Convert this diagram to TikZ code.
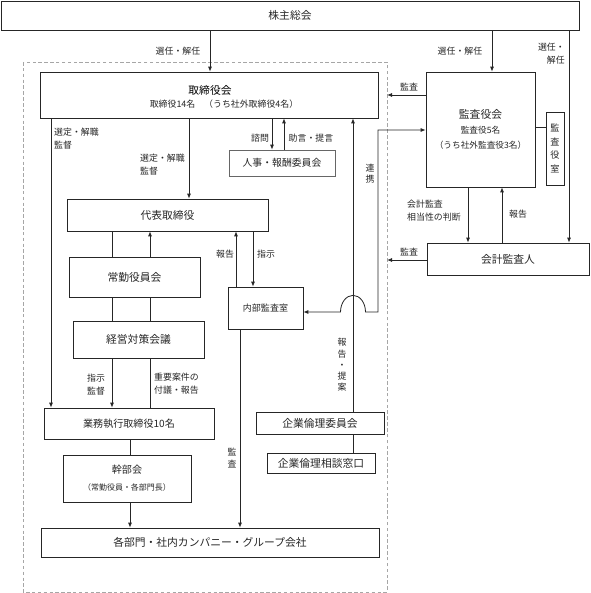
\documentclass[tikz,border=0pt]{standalone}
\usepackage{fontspec}
\setmainfont{Noto Sans CJK JP}
\usetikzlibrary{arrows.meta}
\tikzset{
  box/.style={draw=black!85, line width=0.6pt, inner sep=0pt, text=black!85},
  wh/.style 2 args={minimum width=#1*0.03cm, minimum height=#2*0.03cm},
  lbl/.style={inner sep=0pt, text=black!85, align=center, font=\fontsize{7.6}{11}\selectfont},
  vlbl/.style={lbl, font=\fontsize{7.6}{9.6}\selectfont},
  big/.style={font=\fontsize{9.2}{11}\selectfont},
  conn/.style={draw=black!85, line width=0.7pt},
}
\begin{document}
\begin{tikzpicture}[x=0.03cm, y=-0.03cm, >={Latex[length=1.5mm,width=1.2mm]}]
	\useasboundingbox (0,0) rectangle (590,593);
	\draw[gray!70, dash pattern=on 3pt off 2pt, line width=0.5pt] (23,62) rectangle (387,592);
	\node[box, big, wh={578}{29}] (0) at (290,15.5) {株主総会};
	\node[box, wh={338}{46}] (1) at (209,95) {};
	\node[big, inner sep=0pt] (2) at (210,90) {取締役会};
	\node[lbl] (3) at (224,104) {取締役14名\quad（うち社外取締役4名）};
	\node[box, wh={109}{115}, align=center, font=\fontsize{7.4}{12.5}\selectfont] (4) at (480.5,129.5) {{\fontsize{9.2}{12.5}\selectfont 監査役会}\\監査役5名\\（うち社外監査役3名）};
	\node[box, wh={18}{73}, align=center, font=\fontsize{7.8}{11.6}\selectfont] (5) at (555,148.5) {監\\査\\役\\室};
	\node[box, big, wh={162}{32}] (6) at (508,259) {会計監査人};
	\node[box, wh={106}{26}, draw=black!60, font=\fontsize{8.4}{10}\selectfont] (7) at (282,163) {人事・報酬委員会};
	\node[box, big, wh={201}{32}] (8) at (167.5,215) {代表取締役};
	\node[box, big, wh={131}{40}] (9) at (134.5,277) {常勤役員会};
	\node[box, big, wh={131}{37}] (10) at (138.5,339.5) {経営対策会議};
	\node[box, wh={170}{31}, font=\fontsize{8.6}{10}\selectfont] (11) at (129,423.5) {業務執行取締役10名};
	\node[box, wh={128}{47}, align=center, font=\fontsize{6.8}{14.5}\selectfont] (12) at (127,478.5) {{\fontsize{8.6}{14.5}\selectfont 幹部会}\\（常勤役員・各部門長）};
	\node[box, big, wh={338}{29}] (13) at (210,542.5) {各部門・社内カンパニー・グループ会社};
	\node[box, wh={75}{42}, font=\fontsize{7.7}{10}\selectfont] (14) at (265.5,308) {内部監査室};
	\node[box, big, wh={128}{22}] (15) at (320,423) {企業倫理委員会};
	\node[box, big, wh={108}{20}] (16) at (321,463) {企業倫理相談窓口};
	\node[lbl] (17) at (178,51) {選任・解任};
	\node[lbl] (18) at (460,51) {選任・解任};
	\node[lbl, anchor=east, align=right] (19) at (565,54) {選任・\\解任};
	\node[lbl] (20) at (409,87) {監査};
	\node[lbl] (21) at (409,252) {監査};
	\node[vlbl] (22) at (370,173.5) {連\\携};
	\node[lbl] (23) at (260,138) {諮問};
	\node[lbl] (24) at (311,138) {助言・提言};
	\node[lbl, anchor=west, align=left] (25) at (54,138.5) {選定・解職\\監督};
	\node[lbl, anchor=west, align=left] (26) at (140,164.5) {選定・解職\\監督};
	\node[lbl] (27) at (225,254) {報告};
	\node[lbl] (28) at (266,254) {指示};
	\node[lbl] (29) at (96,385) {指示\\監督};
	\node[lbl, anchor=west, align=left] (30) at (154,383.5) {重要案件の\\付議・報告};
	\node[lbl, anchor=west, align=left] (31) at (407,211) {会計監査\\相当性の判断};
	\node[lbl] (32) at (518,214) {報告};
	\node[vlbl] (33) at (232,458) {監\\査};
	\node[vlbl] (34) at (342,365) {報\\告\\・\\提\\案};
	\coordinate (35) at (387,95);
	\coordinate (36) at (387,260);
	\draw[conn,->] (0.south -| 210,0) to (1.north -| 210,0);
	\draw[conn,->] (0.south -| 492,0) to (4.north -| 492,0);
	\draw[conn,->] (0.south -| 569,0) to (6.north -| 569,0);
	\draw[conn,->] (1.south -| 189,0) to (8.north -| 189,0);
	\draw[conn,->] (1.south -| 51,0) to (11.north -| 51,0);
	\draw[conn,->] (1.south -| 272,0) to (7.north -| 272,0);
	\draw[conn,->] (7.north -| 284,0) to (1.south -| 284,0);
	\draw[conn,->] (4.west |- 35) to (35);
	\draw[conn,->] (6.west |- 36) to (36);
	\draw[conn,->] (4.south -| 468,0) to (6.north -| 468,0);
	\draw[conn,->] (6.north -| 502,0) to (4.south -| 502,0);
	\draw[conn] (4.east |- 0,127) to (5.west |- 0,127);
	\draw[conn] (8.south -| 112,0) to (9.north -| 112,0);
	\draw[conn,->] (9.north -| 150,0) to (8.south -| 150,0);
	\draw[conn] (9.south -| 112,0) to (10.north -| 112,0);
	\draw[conn] (9.south -| 150,0) to (10.north -| 150,0);
	\draw[conn,->] (10.south -| 112,0) to (11.north -| 112,0);
	\draw[conn] (10.south -| 150,0) to (11.north -| 150,0);
	\draw[conn] (11.south -| 130,0) to (12.north -| 130,0);
	\draw[conn,->] (12.south -| 130,0) to (13.north -| 130,0);
	\draw[conn,->] (8.south -| 253,0) to (14.north -| 253,0);
	\draw[conn,->] (14.north -| 236,0) to (8.south -| 236,0);
	\draw[conn,->] (14.south -| 240,0) to (13.north -| 240,0);
	\draw[conn,->] (15.north -| 353,0) to (1.south -| 353,0);
	\draw[conn] (15.south -| 353,0) to (16.north -| 353,0);
	\draw[conn,<->] (14.east |- 0,312) -- (340.5,312) arc[start angle=180, end angle=0, x radius=0.375cm, y radius=0.5cm] -- (378,312) -- (378,130) -- (4.west |- 0,130);
\end{tikzpicture}
\end{document}
